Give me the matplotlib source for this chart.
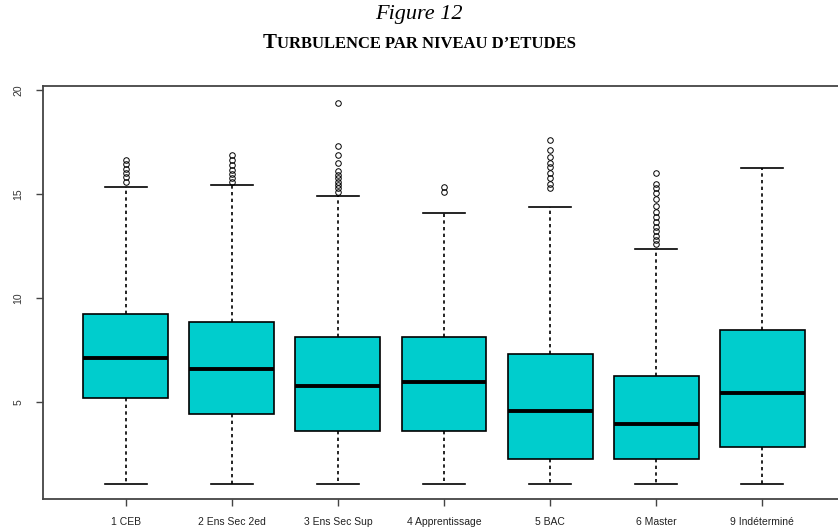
import matplotlib
matplotlib.use("Agg")
import matplotlib.pyplot as plt

# niveaux d'etudes et resume des boites
categories = ["1 CEB", "2 Ens Sec 2ed", "3 Ens Sec Sup", "4 Apprentissage",
              "5 BAC", "6 Master", "9 Indéterminé"]
q1 = [5.19, 4.42, 3.60, 3.60, 2.26, 2.26, 2.84]
medians = [7.10, 6.59, 5.77, 5.96, 4.57, 3.94, 5.45]
q3 = [9.24, 8.85, 8.13, 8.13, 7.31, 6.25, 8.45]
whis_low = [1.05, 1.05, 1.05, 1.05, 1.05, 1.05, 1.05]
whis_high = [15.34, 15.43, 14.90, 14.10, 14.40, 12.35, 16.25]
outliers = [
    [16.65, 16.45, 16.2, 16.0, 15.8, 15.6],
    [16.9, 16.65, 16.4, 16.15, 15.95, 15.75, 15.6],
    [19.4, 17.3, 16.9, 16.5, 16.1, 15.9, 15.75, 15.6, 15.45, 15.3, 15.1],
    [15.35, 15.1],
    [17.6, 17.1, 16.8, 16.5, 16.3, 16.0, 15.75, 15.5, 15.3],
    [16.0, 15.5, 15.3, 15.05, 14.75, 14.45, 14.15, 13.9, 13.65, 13.4,
     13.2, 13.0, 12.8, 12.6],
    [],
]
yticks = [5, 10, 15, 20]

box_color = "#00CDCD"

fig = plt.figure(figsize=(8.38, 5.30), dpi=100)
ax = fig.add_axes([43 / 838, 31 / 530, 802 / 838, 413 / 530])

stats = []
for i, name in enumerate(categories):
    stats.append({
        "label": name,
        "q1": q1[i], "med": medians[i], "q3": q3[i],
        "whislo": whis_low[i], "whishi": whis_high[i],
        "fliers": outliers[i],
    })

ax.bxp(stats, positions=range(1, len(categories) + 1), widths=0.8,
       patch_artist=True, showfliers=True,
       boxprops=dict(facecolor=box_color, edgecolor="black", linewidth=1.2),
       medianprops=dict(color="black", linewidth=2.8),
       whiskerprops=dict(color="black", linewidth=1.2, linestyle=(0, (2, 2))),
       capprops=dict(color="black", linewidth=1.2),
       capwidths=0.4,
       flierprops=dict(marker="o", markerfacecolor="none",
                       markeredgecolor="black", markersize=4.0,
                       markeredgewidth=0.7))

ax.set_xlim(0.22, 7.78)
ax.set_ylim(0.33, 20.2)
ax.set_yticks(yticks)
ax.set_yticklabels([str(t) for t in yticks], rotation=90, va="center",
                   fontsize=7.5, family="Liberation Sans", color="#333333")
ax.set_xticklabels(categories, fontsize=7.5, family="Liberation Sans",
                   color="#222222")
ax.tick_params(axis="both", direction="out", length=5, width=1,
               color="#444444")
ax.tick_params(axis="x", pad=8)
ax.tick_params(axis="y", pad=9)
for sp in ax.spines.values():
    sp.set_linewidth(1.3)
    sp.set_color("#444444")

# titre
fig.text(0.5, 1 - 15 / 530, "Figure 12", ha="center", va="center",
         family="Liberation Serif", style="italic", fontsize=16)

# second line in small caps, built piece by piece
pieces = [("T", 15), ("URBULENCE PAR NIVEAU D\u2019ETUDES", 12)]
renderer = fig.canvas.get_renderer()
texts = []
x = 0
for s, size in pieces:
    t = fig.text(x, 1 - 48 / 530, s, ha="left", va="baseline",
                 family="Liberation Serif", weight="bold", fontsize=size)
    bb = t.get_window_extent(renderer=renderer)
    texts.append((t, x))
    x += bb.width / fig.bbox.width
total = x
for t, x0 in texts:
    t.set_x(0.5 - total / 2 + x0)

fig.savefig("out.png", dpi=100)
